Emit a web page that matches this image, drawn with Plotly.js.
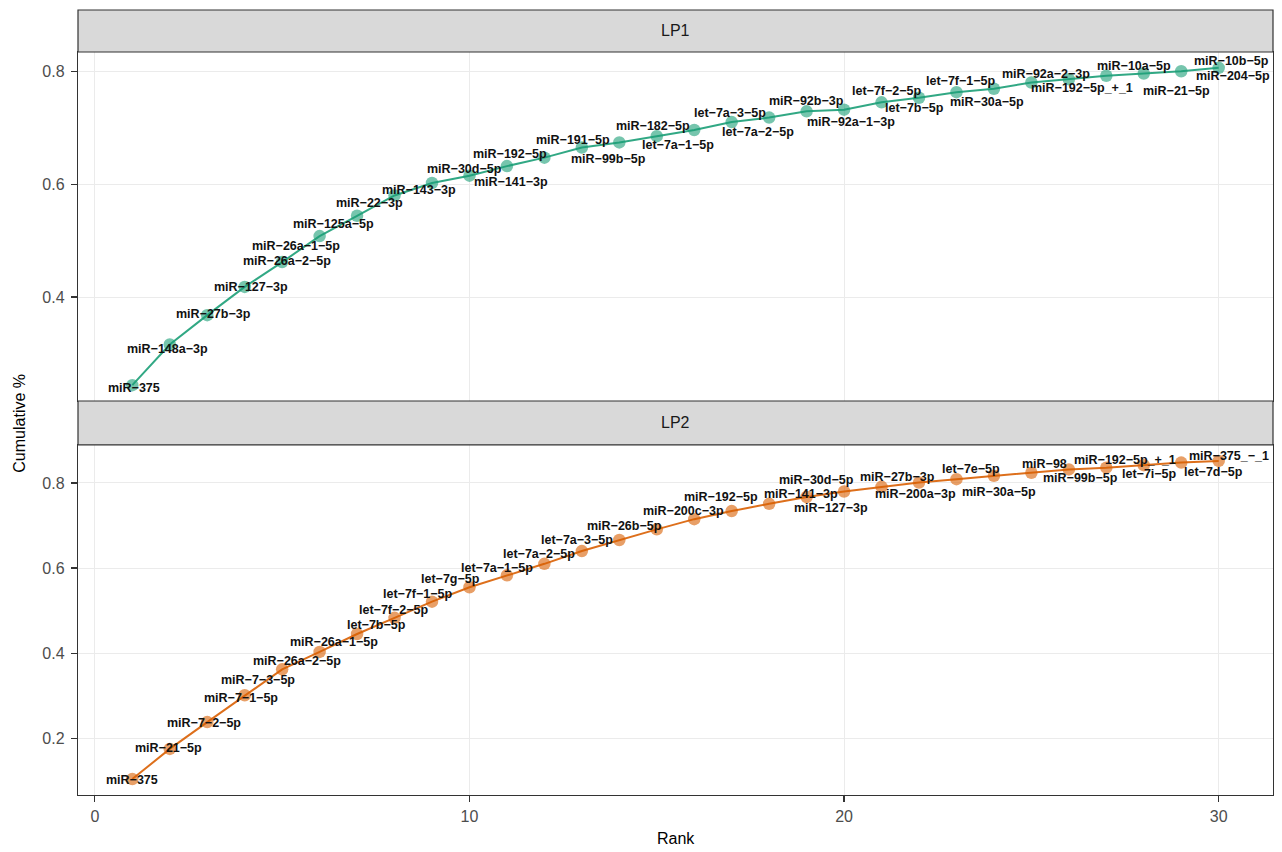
<!DOCTYPE html>
<html>
<head>
<meta charset="utf-8">
<script src="https://cdn.plot.ly/plotly-3.0.1.min.js"></script>
<style>html,body{margin:0;padding:0;background:#fff;}#chart{width:1282px;height:852px;}</style>
</head>
<body>
<div id="chart"></div>
<script>
// ---- data ----
const rank = [1,2,3,4,5,6,7,8,9,10,11,12,13,14,15,16,17,18,19,20,21,22,23,24,25,26,27,28,29,30];

const lp1Labels = ["miR-375","miR-148a-3p","miR-27b-3p","miR-127-3p","miR-26a-2-5p","miR-26a-1-5p",
  "miR-125a-5p","miR-22-3p","miR-143-3p","miR-30d-5p","miR-192-5p","miR-141-3p","miR-191-5p",
  "miR-99b-5p","miR-182-5p","let-7a-1-5p","let-7a-3-5p","let-7a-2-5p","miR-92b-3p","miR-92a-1-3p",
  "let-7f-2-5p","let-7b-5p","let-7f-1-5p","miR-30a-5p","miR-92a-2-3p","miR-192-5p_+_1",
  "miR-10a-5p","miR-21-5p","miR-10b-5p","miR-204-5p"];
const lp1Values = [0.244,0.316,0.368,0.418,0.462,0.508,0.544,0.580,0.602,0.615,0.632,0.647,0.665,
  0.674,0.685,0.696,0.710,0.718,0.729,0.732,0.745,0.753,0.763,0.769,0.780,0.786,0.792,0.796,0.800,0.806];

const lp2Labels = ["miR-375","miR-21-5p","miR-7-2-5p","miR-7-1-5p","miR-7-3-5p","miR-26a-2-5p",
  "miR-26a-1-5p","let-7b-5p","let-7f-2-5p","let-7f-1-5p","let-7g-5p","let-7a-1-5p","let-7a-2-5p",
  "let-7a-3-5p","miR-26b-5p","miR-200c-3p","miR-192-5p","miR-141-3p","miR-30d-5p","miR-127-3p",
  "miR-27b-3p","miR-200a-3p","let-7e-5p","miR-30a-5p","miR-98","miR-99b-5p","miR-192-5p_+_1",
  "let-7i-5p","miR-375_-_1","let-7d-5p"];
const lp2Values = [0.104,0.175,0.238,0.301,0.362,0.403,0.445,0.483,0.521,0.555,0.583,0.610,0.640,
  0.666,0.691,0.715,0.734,0.751,0.767,0.780,0.791,0.801,0.809,0.817,0.824,0.832,0.836,0.842,0.848,0.852];

const panelNames = ["LP1","LP2"];
const xTickVals = [0,10,20,30];
const yTickVals1 = [0.4,0.6,0.8];
const yTickVals2 = [0.2,0.4,0.6,0.8];

// ---- label placement offsets (pixels, like ggrepel) ----
const lp1Offsets = [[2,3],[-2,5],[6,-1],[6,0],[5,-1],[-24,10],[-24,8],[-25,8],[-13,7],[-5,-7],
  [3,-12],[-33,24],[-9,-7],[-11,17],[-4,-10],[-16,15],[-2,-9],[-11,14],[0,-10],[7,12],
  [5,-11],[-5,10],[5,-11],[-7,13],[15,-9],[13,9],[28,-10],[33,17],[50,-10],[14,8]];
const lp2Offsets = [[0,1],[-1,-1],[-3,1],[-4,3],[-24,11],[-23,9],[-23,8],[-18,7],[-38,8],[-51,7],
  [-56,4],[-47,4],[-43,3],[-42,0],[-32,-3],[-11,-8],[-11,-14],[32,-10],[10,-17],[-13,16],
  [16,-10],[-4,11],[15,-10],[5,16],[13,-9],[12,9],[19,-8],[6,9],[48,-7],[-5,11]];

// ---- helpers ----
function expand(vals){
  const mn = Math.min(...vals), mx = Math.max(...vals), d = (mx-mn)*0.05;
  return [mn-d, mx+d];
}
const xRange = expand(rank);
const y1Range = expand(lp1Values);
const y2Range = expand(lp2Values);
const disp = s => s.replace(/-/g, "\u2212");

const green = "27,158,119", orange = "217,95,2";
const FONT = "Liberation Sans, Arial, Helvetica, sans-serif";

const traces = [
  {x: rank, y: lp1Values, xaxis: "x2", yaxis: "y", mode: "lines+markers", type: "scatter",
   line: {color: "rgba("+green+",0.9)", width: 2},
   marker: {color: "rgba("+green+",0.6)", size: 12.5, line: {width: 0}},
   hoverinfo: "skip", showlegend: false},
  {x: rank, y: lp2Values, xaxis: "x", yaxis: "y2", mode: "lines+markers", type: "scatter",
   line: {color: "rgba("+orange+",0.9)", width: 2},
   marker: {color: "rgba("+orange+",0.6)", size: 12.5, line: {width: 0}},
   hoverinfo: "skip", showlegend: false}
];

const annotations = [];
function addLabels(labels, vals, offs, xr, yr){
  labels.forEach((t, i) => {
    annotations.push({x: rank[i], y: vals[i], xref: xr, yref: yr, text: disp(t), showarrow: false,
      xshift: offs[i][0], yshift: -offs[i][1], xanchor: "center", yanchor: "middle",
      font: {family: FONT, size: 12.5, color: "#111", weight: 700}});
  });
}
addLabels(lp1Labels, lp1Values, lp1Offsets, "x2", "y");
addLabels(lp2Labels, lp2Values, lp2Offsets, "x", "y2");

const d1 = [0.5019, 0.9465], s1 = [0.9465, 1.0];
const d2 = [0.0, 0.4459], s2 = [0.4459, 0.5019];

annotations.push({x: 0.5, y: (s1[0]+s1[1])/2, xref: "paper", yref: "paper", text: panelNames[0],
  showarrow: false, xanchor: "center", yanchor: "middle", font: {family: FONT, size: 16, color: "#1a1a1a"}});
annotations.push({x: 0.5, y: (s2[0]+s2[1])/2, xref: "paper", yref: "paper", text: panelNames[1],
  showarrow: false, xanchor: "center", yanchor: "middle", font: {family: FONT, size: 16, color: "#1a1a1a"}});
annotations.push({x: 0, y: 0.473, xref: "paper", yref: "paper", text: "Cumulative %", textangle: -90,
  showarrow: false, xshift: -58, xanchor: "center", yanchor: "middle",
  font: {family: FONT, size: 16, color: "#000"}});
annotations.push({x: 0.5, y: 0, xref: "paper", yref: "paper", text: "Rank",
  showarrow: false, yshift: -43, xanchor: "center", yanchor: "middle",
  font: {family: FONT, size: 16, color: "#000"}});

const shapes = [
  {type: "rect", xref: "paper", yref: "paper", x0: 0, x1: 1, y0: s1[0], y1: s1[1],
   fillcolor: "#d9d9d9", line: {color: "#333", width: 1.2}, layer: "above"},
  {type: "rect", xref: "paper", yref: "paper", x0: 0, x1: 1, y0: s2[0], y1: s2[1],
   fillcolor: "#d9d9d9", line: {color: "#333", width: 1.2}, layer: "above"}
];

const axBase = {showline: true, mirror: true, linecolor: "#333", linewidth: 1.2,
  showgrid: true, gridcolor: "#ebebeb", gridwidth: 1, zeroline: false,
  tickfont: {family: FONT, size: 16, color: "#4d4d4d"}, tickcolor: "#333", ticklen: 6, tickwidth: 1.2,
  ticklabelstandoff: 3};

const layout = {
  width: 1282, height: 852,
  margin: {l: 78, r: 9, t: 10, b: 57},
  paper_bgcolor: "#fff", plot_bgcolor: "#fff",
  showlegend: false,
  xaxis: Object.assign({}, axBase, {domain: [0,1], anchor: "y2", range: xRange,
    tickvals: xTickVals, ticktext: xTickVals.map(String), ticks: "outside", ticklabelstandoff: 1}),
  xaxis2: Object.assign({}, axBase, {domain: [0,1], anchor: "y", range: xRange,
    tickvals: xTickVals, showticklabels: false, ticks: ""}),
  yaxis: Object.assign({}, axBase, {domain: d1, anchor: "x2", range: y1Range,
    tickvals: yTickVals1, ticktext: yTickVals1.map(v => v.toFixed(1)), ticks: "outside"}),
  yaxis2: Object.assign({}, axBase, {domain: d2, anchor: "x", range: y2Range,
    tickvals: yTickVals2, ticktext: yTickVals2.map(v => v.toFixed(1)), ticks: "outside"}),
  annotations: annotations,
  shapes: shapes
};

Plotly.newPlot("chart", traces, layout, {staticPlot: true, displayModeBar: false});
</script>
</body>
</html>
